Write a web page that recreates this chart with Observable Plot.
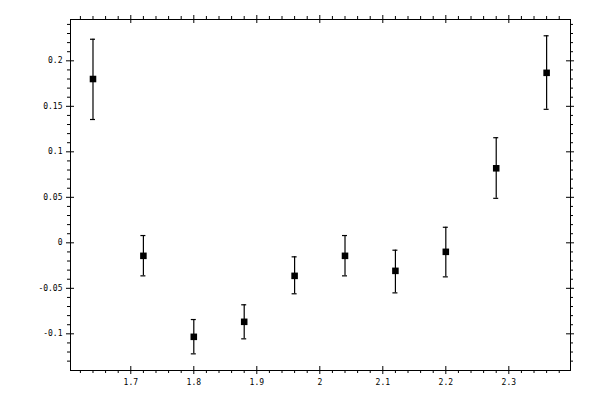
<!DOCTYPE html>
<html>
<head>
<meta charset="utf-8">
<script src="https://cdn.jsdelivr.net/npm/d3@7"></script>
<script src="https://cdn.jsdelivr.net/npm/@observablehq/plot@0.6"></script>
<style>
  html, body { margin: 0; padding: 0; background: #fff; }
</style>
</head>
<body>
<div id="chart"></div>
<script>
const xs = [1.64, 1.72, 1.80, 1.88, 1.96, 2.04, 2.12, 2.20, 2.28, 2.36];
const ys = [0.180, -0.0143, -0.1033, -0.0868, -0.0363, -0.0143, -0.0308, -0.0099, 0.0819, 0.1868];
const yHi = [0.2237, 0.008, -0.0843, -0.0681, -0.0154, 0.008, -0.0081, 0.0171, 0.1155, 0.2275];
const yLo = [0.1355, -0.0363, -0.122, -0.1055, -0.056, -0.0363, -0.055, -0.0374, 0.0489, 0.1467];

const xMajor = [1.7, 1.8, 1.9, 2.0, 2.1, 2.2, 2.3];
const xTickLabels = ["1.7", "1.8", "1.9", "2", "2.1", "2.2", "2.3"];
const xMinor = [1.62, 1.64, 1.66, 1.68, 1.72, 1.74, 1.76, 1.78, 1.82, 1.84, 1.86, 1.88, 1.92, 1.94, 1.96, 1.98,
  2.02, 2.04, 2.06, 2.08, 2.12, 2.14, 2.16, 2.18, 2.22, 2.24, 2.26, 2.28, 2.32, 2.34, 2.36, 2.38];
const yMajor = [-0.1, -0.05, 0, 0.05, 0.1, 0.15, 0.2];
const yTickLabels = ["-0.1", "-0.05", "0", "0.05", "0.1", "0.15", "0.2"];
const yMinor = [-0.13, -0.12, -0.11, -0.09, -0.08, -0.07, -0.06, -0.04, -0.03, -0.02, -0.01,
  0.01, 0.02, 0.03, 0.04, 0.06, 0.07, 0.08, 0.09, 0.11, 0.12, 0.13, 0.14, 0.16, 0.17, 0.18, 0.19,
  0.21, 0.22, 0.23, 0.24];

const xDomain = [1.6043, 2.3979];
const yDomain = [-0.1403, 0.2454];

const data = xs.map((x, i) => ({x, y: ys[i], lo: yLo[i], hi: yHi[i]}));

const W = 600, H = 400, mL = 70, mR = 30, mT = 19, mB = 30;
const iw = W - mL - mR, ih = H - mT - mB;

const chart = Plot.plot({
  width: W,
  height: H,
  marginLeft: mL,
  marginRight: mR,
  marginTop: mT,
  marginBottom: mB,
  style: {fontFamily: "'DejaVu Sans Mono', monospace", fontSize: "8px", color: "black", background: "white"},
  x: {domain: xDomain, label: null},
  y: {domain: yDomain, label: null},
  marks: [
    Plot.frame({stroke: "black", strokeWidth: 1}),
    // x major ticks (bottom and top), crossing the frame
    Plot.ruleX(xMajor, {x: d => d, insetTop: ih - 4, insetBottom: -4, stroke: "black"}),
    Plot.ruleX(xMajor, {x: d => d, insetTop: -4, insetBottom: ih - 4, stroke: "black"}),
    // x minor ticks, outward
    Plot.ruleX(xMinor, {x: d => d, insetTop: ih, insetBottom: -3, stroke: "black"}),
    Plot.ruleX(xMinor, {x: d => d, insetTop: -3, insetBottom: ih, stroke: "black"}),
    // y major ticks (left and right)
    Plot.ruleY(yMajor, {y: d => d, insetLeft: -4, insetRight: iw - 4, stroke: "black"}),
    Plot.ruleY(yMajor, {y: d => d, insetLeft: iw - 4, insetRight: -4, stroke: "black"}),
    // y minor ticks, outward
    Plot.ruleY(yMinor, {y: d => d, insetLeft: -3, insetRight: iw, stroke: "black"}),
    Plot.ruleY(yMinor, {y: d => d, insetLeft: iw, insetRight: -3, stroke: "black"}),
    // axis labels
    Plot.axisX({ticks: xMajor, tickSize: 0, tickPadding: 9, tickFormat: d => xTickLabels[xMajor.indexOf(d)], fill: "black"}),
    Plot.axisY({ticks: yMajor, tickSize: 0, tickPadding: 8, tickFormat: d => yTickLabels[yMajor.indexOf(d)], fill: "black"}),
    // error bars
    Plot.ruleX(data, {x: "x", y1: "lo", y2: "hi", stroke: "black", strokeWidth: 1.2}),
    Plot.ruleY(data, {y: "lo", x1: "x", x2: "x", insetLeft: -2.5, insetRight: -2.5, stroke: "black", strokeWidth: 1.2}),
    Plot.ruleY(data, {y: "hi", x1: "x", x2: "x", insetLeft: -2.5, insetRight: -2.5, stroke: "black", strokeWidth: 1.2}),
    // markers
    Plot.dot(data, {x: "x", y: "y", symbol: "square", r: 3.7, fill: "black", stroke: "none"})
  ]
});
document.getElementById("chart").appendChild(chart);
</script>
</body>
</html>
